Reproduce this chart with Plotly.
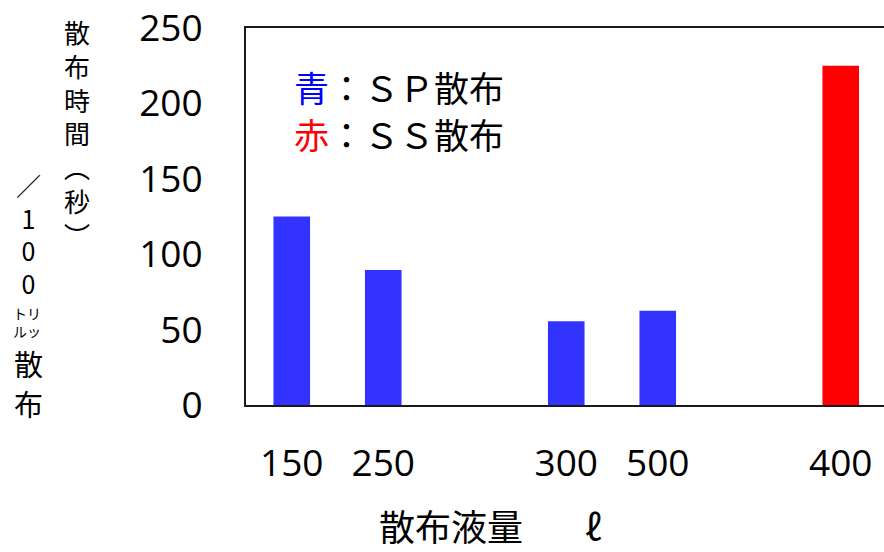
import plotly.graph_objects as go

# ---- data ----
slots = ["150", "250", "gap_a", "300", "500", "gap_b", "400"]
sp_labels = ["150", "250", "300", "500"]
sp_values = [125, 89.5, 55.5, 62.5]
ss_labels = ["400"]
ss_values = [225]
tick_labels = ["150", "250", "300", "500", "400"]
y_ticks = [0, 50, 100, 150, 200, 250]

W, H = 884, 552
L, R, T, B = 246, 0, 28, 147
PX0, PX1, PY0, PY1 = L, W - R, T, H - B


def xp(px):
    return (px - PX0) / (PX1 - PX0)


def yp(py):
    return (PY1 - py) / (PY1 - PY0)


CJK = "Noto Sans CJK JP"
NUM = "Open Sans"

fig = go.Figure()
fig.add_trace(go.Bar(x=sp_labels, y=sp_values, width=0.4,
                     marker=dict(color="#3333FF", line=dict(width=0)),
                     showlegend=False))
fig.add_trace(go.Bar(x=ss_labels, y=ss_values, width=0.4,
                     marker=dict(color="#FF0000", line=dict(width=0)),
                     showlegend=False))

annotations = []


def ann(text, px, py, size, color="black", xanchor="center", font=CJK, align="center"):
    annotations.append(dict(text=text, x=xp(px), y=yp(py), xref="paper", yref="paper",
                            xanchor=xanchor, yanchor="middle", showarrow=False, align=align,
                            font=dict(family=font, size=size, color=color)))


# y-axis title (vertical writing, two columns)
ann("<br>".join(["散", "布", "時", "間", "︵", "秒", "︶"]), 77, 133, 26)
ann("<br>".join(["／", "1", "0", "0"]), 28, 234, 25)
ann("トリ<br>ルッ", 27, 322, 14)
ann("散", 28, 363, 29)
ann("布", 28, 403, 29)

# in-plot legend text
ann('<span style="color:#0000FF">青</span>：ＳＰ散布', 292, 86, 35, xanchor="left", align="left")
ann('<span style="color:#FF0000">赤</span>：ＳＳ散布', 292, 133, 35, xanchor="left", align="left")

# x-axis title
ann("散布液量\u3000\u2002\u00a0ℓ", 377, 525, 36, xanchor="left")

fig.update_layout(
    width=W, height=H,
    margin=dict(l=L, r=R, t=T, b=B, pad=0),
    paper_bgcolor="white", plot_bgcolor="white",
    barmode="overlay",
    annotations=annotations,
    xaxis=dict(type="category", categoryorder="array", categoryarray=slots,
               range=[-0.5, -0.5 + (PX1 - PX0) / 91.5],
               tickmode="array", tickvals=tick_labels, ticktext=tick_labels,
               showline=True, linecolor="#1a1a1a", linewidth=2, mirror=True,
               showgrid=False, zeroline=False, ticks="",
               ticklabelstandoff=25,
               tickfont=dict(family=NUM, size=37, color="black")),
    yaxis=dict(range=[0, 250], tickvals=y_ticks,
               showline=True, linecolor="#1a1a1a", linewidth=2, mirror=False,
               showgrid=False, zeroline=False, ticks="",
               ticklabelstandoff=34,
               tickfont=dict(family=NUM, size=37, color="black")),
)

fig.write_html("out.html")
